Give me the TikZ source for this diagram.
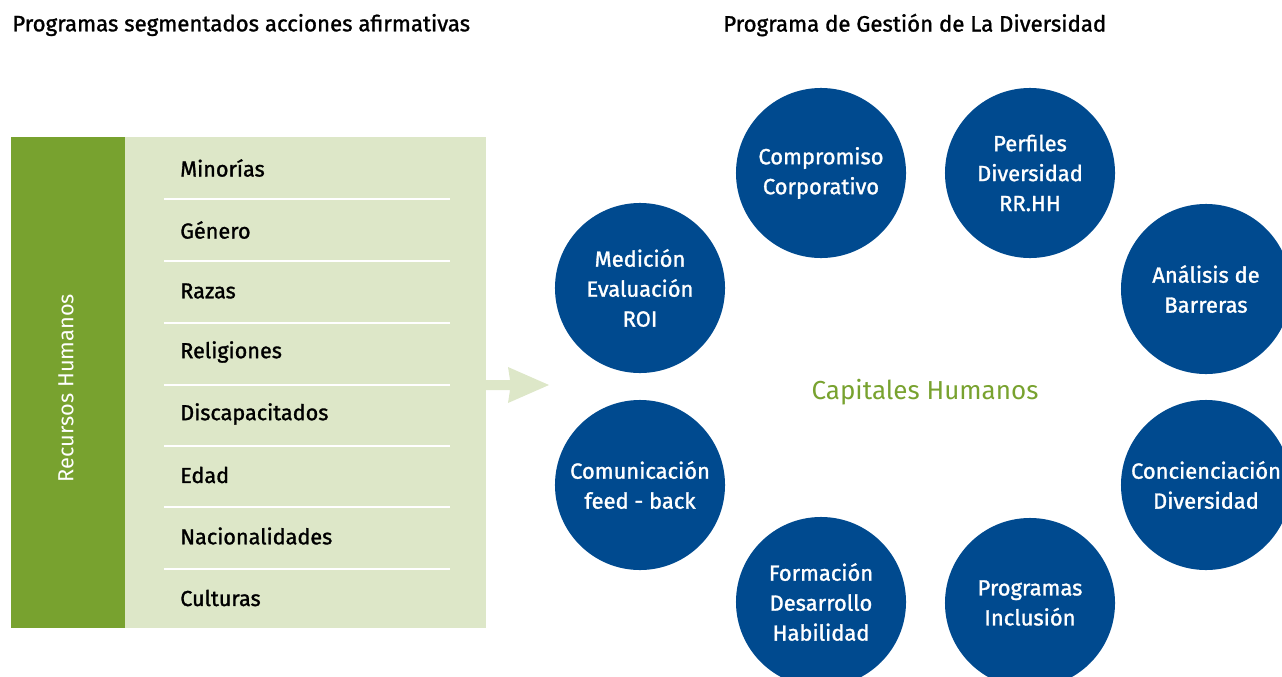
\documentclass[tikz,border=0pt]{standalone}
\usepackage{fontspec}
\setmainfont{Fira Sans}
\newfontfamily\medfont{Fira Sans}[FakeBold=1.3]
\definecolor{divblue}{RGB}{0,74,143}
\definecolor{hrgreen}{RGB}{120,162,47}
\definecolor{palegreen}{RGB}{221,231,200}

\begin{document}
\begin{tikzpicture}[
	x=0.025cm, y=-0.025cm,
	circ/.style={circle, fill=divblue, text=white, minimum size=4.25cm, inner sep=0pt, align=center, font=\medfont\fontsize{15.6}{21.3}\selectfont},
	item/.style={anchor=west, inner sep=0pt, font=\medfont\fontsize{15.4}{18}\selectfont},
	heading/.style={anchor=west, inner sep=0pt, font=\medfont\fontsize{15.8}{18}\selectfont},
	sepline/.style={white, line width=1.6pt}
]
\useasboundingbox (0,0) rectangle (1282,677);
\clip (0,0) rectangle (1282,677);

% Titles
\node[heading] (lefttitle) at (12,25) {Programas segmentados acciones afirmativas};
\node[heading] (righttitle) at (723,25) {Programa de Gestión de La Diversidad};

% Left block
\fill[palegreen] (125,137) rectangle (486,628);
\fill[hrgreen] (11,137) rectangle (125,628);
\node[rotate=90, text=white, inner sep=0pt, font=\fontsize{15.5}{18}\selectfont] (rrhh) at (66,388) {Recursos Humanos};

\node[item] (minorias) at (180,168) {Minorías};
\node[item] (genero) at (180,230) {Género};
\node[item] (razas) at (180,291) {Razas};
\node[item] (religiones) at (180,352) {Religiones};
\node[item] (discap) at (180,414) {Discapacitados};
\node[item] (edad) at (180,475) {Edad};
\node[item] (nacion) at (180,536) {Nacionalidades};
\node[item] (culturas) at (180,598) {Culturas};

\draw[sepline] (164,199) -- (450,199);
\draw[sepline] (164,261) -- (450,261);
\draw[sepline] (164,323) -- (450,323);
\draw[sepline] (164,385) -- (450,385);
\draw[sepline] (164,446) -- (450,446);
\draw[sepline] (164,507) -- (450,507);
\draw[sepline] (164,569) -- (450,569);

% Arrow
\fill[palegreen] (486,380) -- (510,380) -- (508,367) -- (549,385) -- (508,403) -- (510,390) -- (486,390) -- cycle;

% Circles
\node[circ] (medicion) at (640,288) {Medición\\Evaluación\\ROI};
\node[circ] (compromiso) at (821,173) {Compromiso\\Corporativo};
\node[circ] (perfiles) at (1030,173) {Perfiles\\Diversidad\\RR.HH};
\node[circ] (analisis) at (1206,289) {Análisis de\\Barreras};
\node[circ] (comunicacion) at (640,485) {Comunicación\\feed - back};
\node[circ] (concienciacion) at (1206,485) {Concienciación\\Diversidad};
\node[circ] (formacion) at (821,602) {Formación\\Desarrollo\\Habilidad};
\node[circ] (programas) at (1030,603) {Programas\\Inclusión};

\node[text=hrgreen, font=\fontsize{18.5}{22}\selectfont] (capitales) at (925,392) {Capitales Humanos};

\end{tikzpicture}
\end{document}
